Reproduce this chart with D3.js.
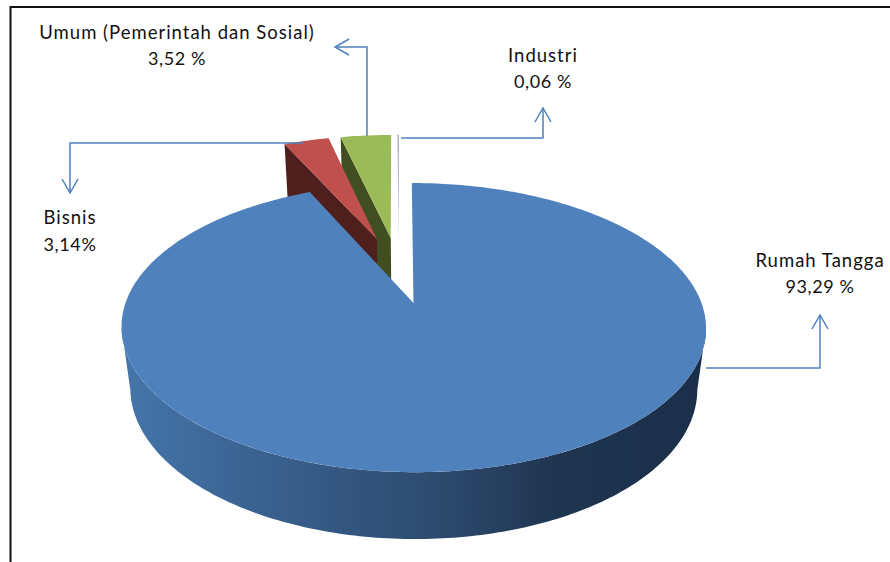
<!DOCTYPE html>
<html lang="id">
<head>
<meta charset="utf-8">
<title>Pelanggan</title>
<script src="https://cdn.jsdelivr.net/npm/d3@7/dist/d3.min.js"></script>
<style>
  body {margin: 0; background: #fff;}
  svg {display: block;}
  text {font-family: Lato, sans-serif; font-size: 18px; fill: #111; text-anchor: middle;}
  .name {font-size: 18.5px; letter-spacing: 1px;}
  .value {letter-spacing: 0.6px;}
</style>
</head>
<body>
<svg width="890" height="562"></svg>
<script>
var categories = ["Rumah Tangga", "Bisnis", "Umum (Pemerintah dan Sosial)", "Industri"];
var values = [93.29, 3.14, 3.52, 0.06];
var valueLabels = ["93,29 %", "3,14%", "3,52 %", "0,06 %"];

var topColors = ["#4f81bd", "#c0504d", "#9bbb59", "#8064a2"];
var wallColors = ["#2d4a6e", "#4f1f1e", "#404e22", "#8064a2"];

// perspective of the pie plane, origin on the tip of the big slice
var cx = 413.5, cy = 303, A = 288, B = 140.4, D = 62.6, k = 0.17, m = 0.03, shear = 1.7;
var explode = 0.255;

function project(u, v, z) {
  var w = 1 + k * v + m * z;
  return [cx + A * u / w - shear * v, cy - (B * v - D * z) / w];
}

var slices = d3.pie().sort(null)(values);
var mid = function (s) { return (s.startAngle + s.endAngle) / 2; };
var line = d3.line();

// offset of a slice, measured from the big slice
function offset(s) {
  return [
    explode * (Math.sin(mid(s)) - Math.sin(mid(slices[0]))),
    explode * (Math.cos(mid(s)) - Math.cos(mid(slices[0])))
  ];
}

function rimPoint(s, angle, z) {
  var o = offset(s);
  return project(o[0] + Math.sin(angle), o[1] + Math.cos(angle), z);
}

function tip(s, z) {
  var o = offset(s);
  return project(o[0], o[1], z);
}

function arcAngles(a0, a1) {
  var n = Math.max(2, Math.ceil(Math.abs(a1 - a0) * 60));
  return d3.range(n + 1).map(function (i) { return a0 + (a1 - a0) * i / n; });
}

var svg = d3.select("svg");

var grad = svg.append("defs").append("linearGradient")
  .attr("id", "wall")
  .attr("gradientUnits", "userSpaceOnUse")
  .attr("x1", 130).attr("x2", 697).attr("y1", 0).attr("y2", 0);
grad.append("stop").attr("offset", "0").attr("stop-color", "#4474a9");
grad.append("stop").attr("offset", "0.3").attr("stop-color", "#375c88");
grad.append("stop").attr("offset", "0.55").attr("stop-color", "#2c4a6d");
grad.append("stop").attr("offset", "0.75").attr("stop-color", "#1f3550");
grad.append("stop").attr("offset", "1").attr("stop-color", "#1b2f4a");

// frame, only top and left show
svg.append("path")
  .attr("d", "M10.5,570V7H900")
  .attr("fill", "none").attr("stroke", "#111").attr("stroke-width", 2);

// small slices back to front, the big one covers them
slices.slice(1).reverse().forEach(function (s) {
  var i = s.index;
  svg.append("path")
    .attr("d", line([tip(s, 0), rimPoint(s, s.startAngle, 0), rimPoint(s, s.startAngle, 1), tip(s, 1)]) + "Z")
    .attr("fill", wallColors[i]);
  var top = [tip(s, 0)].concat(arcAngles(s.startAngle, s.endAngle).map(function (a) {
    return rimPoint(s, a, 0);
  }));
  svg.append("path")
    .attr("d", line(top) + "Z")
    .attr("fill", topColors[i]);
});

// big slice: side wall then top
var big = slices[0];
var wallAngles = arcAngles(Math.PI * 100 / 180, Math.PI * 260 / 180);
var wallPts = wallAngles.map(function (a) { return rimPoint(big, a, 0); })
  .concat(wallAngles.slice().reverse().map(function (a) { return rimPoint(big, a, 1); }));
svg.append("path").attr("d", line(wallPts) + "Z").attr("fill", "url(#wall)");

var bigTop = [tip(big, 0)].concat(arcAngles(big.startAngle, big.endAngle).map(function (a) {
  return rimPoint(big, a, 0);
}));
svg.append("path").attr("d", line(bigTop) + "Z").attr("fill", topColors[0]);

// leader lines and their arrows
var leaders = [
  [[706, 368], [820, 368], [820, 315]],
  [[303, 143], [70, 143], [70, 193]],
  [[367, 136], [367, 47], [335, 47]],
  [[401, 138], [543, 138], [543, 108]]
];
leaders.forEach(function (pts) {
  svg.append("path")
    .attr("d", line(pts))
    .attr("fill", "none").attr("stroke", "#4f81bd").attr("stroke-width", 1.5);
  var a = pts[2], b = pts[1];
  var dx = Math.sign(a[0] - b[0]), dy = Math.sign(a[1] - b[1]);
  svg.append("path")
    .attr("d", line([
      [a[0] - dx * 14 - dy * 8, a[1] - dy * 14 - dx * 8],
      a,
      [a[0] - dx * 14 + dy * 8, a[1] - dy * 14 + dx * 8]
    ]))
    .attr("fill", "none").attr("stroke", "#4f81bd").attr("stroke-width", 1.5);
});

// labels
var labelPos = [[820, 267, 293], [70, 224, 251], [177, 39, 65], [543, 62, 88]];
categories.forEach(function (c, i) {
  var p = labelPos[i];
  svg.append("text").attr("class", "name").attr("x", p[0]).attr("y", p[1]).text(c);
  svg.append("text").attr("class", "value").attr("x", p[0]).attr("y", p[2]).text(valueLabels[i]);
});
</script>
</body>
</html>
